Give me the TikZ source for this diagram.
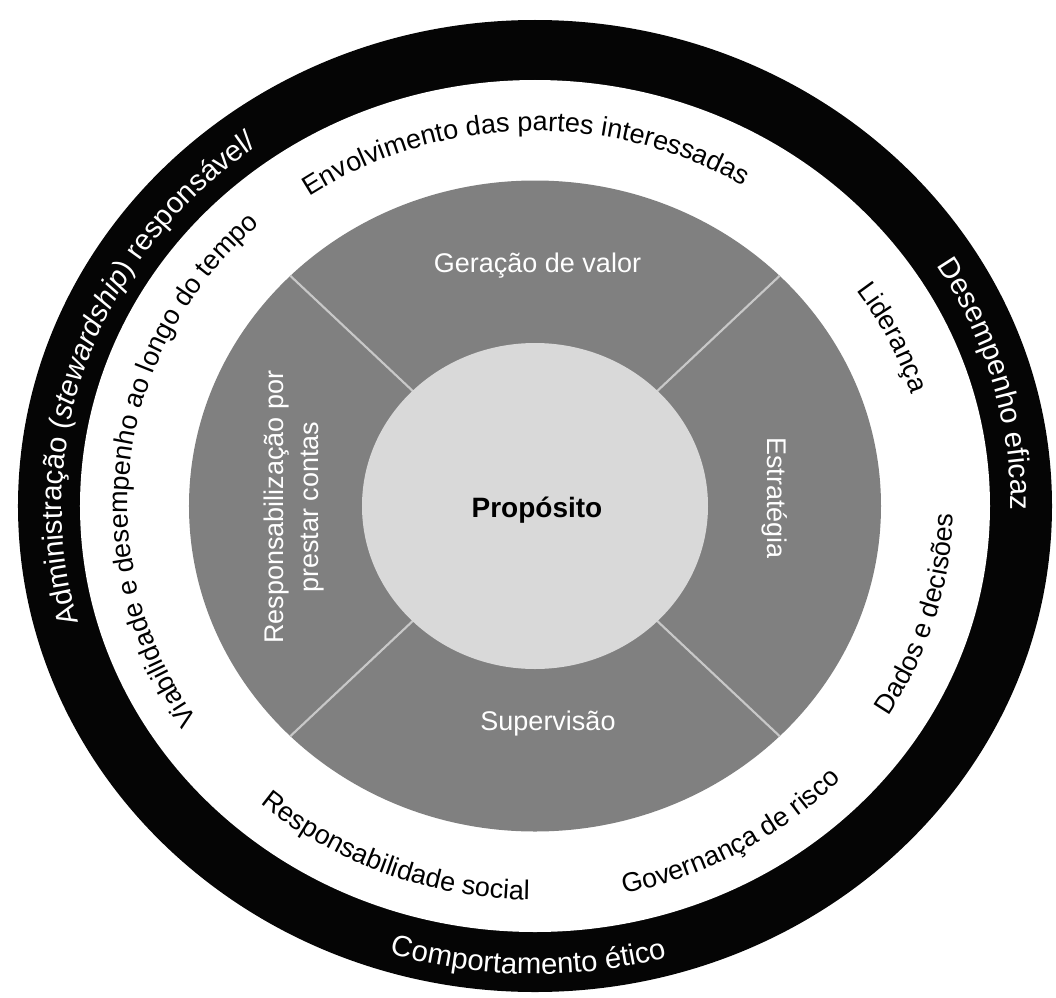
\documentclass[tikz,border=0pt]{standalone}
\usepackage{fontspec}
\setmainfont{Liberation Sans}
\usetikzlibrary{decorations.text}
\newcommand\rngf{\fontsize{22}{26}\selectfont}
\newcommand\bndf{\fontsize{20.25}{24}\selectfont}
\definecolor{ringblack}{HTML}{050505}
\definecolor{wedgegray}{HTML}{808080}
\definecolor{coregray}{HTML}{D9D9D9}
\definecolor{divgray}{HTML}{C8C8C8}
% #1 centre angle, #2 half span (+ clockwise, - counter-clockwise), #3 x radius of baseline, #4 colour, #5 text
\newcommand\curvtxt[5]{%
  \pgfmathsetmacro\ctsa{#1+#2}%
  \pgfmathsetmacro\ctea{#1-#2}%
  \pgfmathsetmacro\ctry{0.94*#3}%
  \path[decorate,decoration={text along path,text align=center,text color=#4,text={#5}}]
    ({#3*cos(\ctsa)},{\ctry*sin(\ctsa)}) arc[start angle=\ctsa, end angle=\ctea, x radius=#3, y radius=\ctry];
}
\tikzset{
  divider/.style={draw=divgray, line width=1.6pt},
  wedgetext/.style={text=white, font=\bndf, align=center, inner sep=0pt},
  coretext/.style={text=black, font=\fontsize{21}{25}\selectfont\bfseries, inner sep=0pt}
}
\begin{document}
\begin{tikzpicture}[x=0.75pt,y=0.75pt]
\useasboundingbox (-535,-491) rectangle (521,506);
\fill[white] (-535,-491) rectangle (521,506);
\coordinate (c) at (0,0);
% rings
\fill[ringblack] (c) ellipse[x radius=517, y radius=486];
\fill[white] (c) ellipse[x radius=455, y radius=426];
\fill[wedgegray] (c) ellipse[x radius=346, y radius=325.5];
% dividers
\coordinate (ne) at ({346*cos(45)},{325.5*sin(45)});
\coordinate (nw) at ({346*cos(135)},{325.5*sin(135)});
\coordinate (sw) at ({346*cos(225)},{325.5*sin(225)});
\coordinate (se) at ({346*cos(315)},{325.5*sin(315)});
\draw[divider] (c) -- (ne);
\draw[divider] (c) -- (nw);
\draw[divider] (c) -- (sw);
\draw[divider] (c) -- (se);
\fill[coregray] (c) ellipse[x radius=173, y radius=163];
% centre and wedge labels
\node[coretext] (prop) at (2,-4) {Propósito};
\node[wedgetext] (gera) at (2.5,240) {Geração de valor};
\node[wedgetext, rotate=-90] (estr) at (239.5,8) {Estratégia};
\node[wedgetext] (super) at (13,-218) {Supervisão};
\node[wedgetext, rotate=90] (resp) at (-241,-1) {Responsabilização por\\[2pt]prestar contas};
% outer black ring texts
\curvtxt{161.0}{60}{473}{white}{|\rngf|Administração (|\rngf\itshape|stewardship|\rngf\upshape|) responsável/}
\curvtxt{15.5}{50}{476}{white}{|\rngf|Desempenho eficaz}
\curvtxt{269.2}{-50}{498}{white}{|\rngf|Comportamento ético}
% white band texts
\curvtxt{91.5}{70}{399}{black}{|\bndf|Envolvimento das partes interessadas}
\curvtxt{173.4}{60}{407}{black}{|\bndf|Viabilidade e desempenho ao longo do tempo}
\curvtxt{26.2}{30}{395}{black}{|\bndf|Liderança}
\curvtxt{-16.5}{-35}{418}{black}{|\bndf|Dados e decisões}
\curvtxt{299.8}{-40}{422}{black}{|\bndf|Governança de risco}
\curvtxt{248.8}{-40}{419}{black}{|\bndf|Responsabilidade social}
\end{tikzpicture}
\end{document}
